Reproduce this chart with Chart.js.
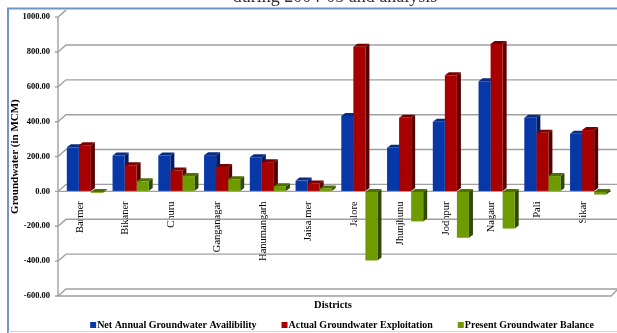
<!DOCTYPE html>
<html>
<head>
<meta charset="utf-8">
<script src="https://cdn.jsdelivr.net/npm/chart.js@4/dist/chart.umd.min.js"></script>
<style>
  html, body { margin: 0; padding: 0; background: #ffffff; }
  #wrap { width: 617px; height: 333px; position: relative; }
</style>
</head>
<body>
<div id="wrap"><canvas id="c" width="617" height="333"></canvas></div>
<script>
// ---- data ----
const districts = ["Barmer", "Bikaner", "Churu", "Ganganagar", "Hanumangarh", "Jaisalmer",
                   "Jalore", "Jhunjhunu", "Jodhpur", "Nagaur", "Pali", "Sikar"];
const netAvailability = [253, 206, 206, 208, 196, 62, 432, 250, 400, 632, 422, 331];
const actualExploitation = [265, 150, 120, 140, 168, 46, 830, 422, 667, 846, 337, 352];
const presentBalance = [-8, 58, 88, 70, 30, 17, -396, -172, -266, -213, 88, -18];
const seriesNames = ["Net Annual Groundwater Availibility", "Actual Groundwater Exploitation",
                     "Present Groundwater Balance"];
const yTicks = [1000, 800, 600, 400, 200, 0, -200, -400, -600];

const SERIF = "'Liberation Serif', 'DejaVu Serif', serif";
const frontColors = ["#0838A8", "#A80000", "#6E9C00"];
const sideColors = ["#001E66", "#580000", "#2F4A00"];
const topColors = ["#0A2C80", "#7A0000", "#4E7000"];
const DX = 4, DY = 3;       // bar depth
const GX = 8, GY = 7;       // wall depth
const WALL_SHIFT = 4;       // front wall edge sits left of the category band

const framePlugin = {
  id: 'frame',
  beforeDraw(chart) {
    const ctx = chart.ctx;
    ctx.save();
    ctx.fillStyle = '#ffffff';
    ctx.fillRect(0, 0, chart.width, chart.height);
    // cropped caption at the very top
    ctx.fillStyle = '#333';
    ctx.font = "18px " + SERIF;
    ctx.textAlign = 'center';
    ctx.textBaseline = 'alphabetic';
    ctx.fillText('during 2004-05 and analysis', 335, 2);
    // outer frame
    ctx.strokeStyle = '#6D95C8';
    ctx.lineWidth = 2;
    ctx.beginPath();
    ctx.moveTo(8, 333);
    ctx.lineTo(8, 8.5);
    ctx.lineTo(617, 8.5);
    ctx.stroke();
    ctx.strokeStyle = '#C9D6E6';
    ctx.lineWidth = 1;
    ctx.beginPath();
    ctx.moveTo(8, 331.5);
    ctx.lineTo(617, 331.5);
    ctx.stroke();
    ctx.restore();
  },
  beforeDatasetsDraw(chart) {
    const ctx = chart.ctx;
    const ys = chart.scales.y;
    const area = chart.chartArea;
    const L = area.left - WALL_SHIFT, R = area.right;
    ctx.save();
    ctx.strokeStyle = '#A0A0A0';
    ctx.lineWidth = 1.4;
    yTicks.forEach((v, i) => {
      const y = ys.getPixelForValue(v);
      ctx.beginPath();
      ctx.moveTo(L - 3, y);
      ctx.lineTo(L, y);
      ctx.lineTo(L + GX, y - GY);
      if (i > 0) ctx.lineTo(R + 10, y - GY);
      ctx.stroke();
    });
    // floor front edge
    const yb = ys.getPixelForValue(yTicks[yTicks.length - 1]);
    ctx.beginPath();
    ctx.moveTo(L, yb);
    ctx.lineTo(R, yb);
    ctx.lineTo(R + 6, yb - GY + 1);
    ctx.stroke();
    // zero front edge
    const y0 = ys.getPixelForValue(0);
    ctx.beginPath();
    ctx.moveTo(L, y0);
    ctx.lineTo(R, y0);
    ctx.stroke();
    // vertical axis wall edge
    ctx.beginPath();
    ctx.moveTo(L, ys.getPixelForValue(yTicks[0]));
    ctx.lineTo(L, yb);
    ctx.stroke();

    // side and top faces of the bars (drawn behind the fronts)
    chart.data.datasets.forEach((ds, di) => {
      const meta = chart.getDatasetMeta(di);
      meta.data.forEach(el => {
        const w = el.width;
        const x1 = el.x + w / 2, x0 = el.x - w / 2;
        const top = Math.min(el.y, el.base), bot = Math.max(el.y, el.base);
        ctx.fillStyle = sideColors[di];
        ctx.beginPath();
        ctx.moveTo(x1, bot);
        ctx.lineTo(x1 + DX, bot - DY);
        ctx.lineTo(x1 + DX, top - DY);
        ctx.lineTo(x1, top);
        ctx.closePath();
        ctx.fill();
        ctx.fillStyle = topColors[di];
        ctx.beginPath();
        ctx.moveTo(x0, top);
        ctx.lineTo(x0 + DX, top - DY);
        ctx.lineTo(x1 + DX, top - DY);
        ctx.lineTo(x1, top);
        ctx.closePath();
        ctx.fill();
      });
    });
    ctx.restore();
  },
  afterDraw(chart) {
    const ctx = chart.ctx;
    ctx.save();
    // x axis title
    ctx.fillStyle = '#000';
    ctx.font = "bold 10.5px " + SERIF;
    ctx.textAlign = 'center';
    ctx.textBaseline = 'middle';
    ctx.fillText('Districts', 333, 305);
    // legend
    ctx.font = "bold 10px " + SERIF;
    ctx.textAlign = 'left';
    const box = 6, gapBox = 1, gapItem = 25;
    const widths = seriesNames.map(n => ctx.measureText(n).width);
    const total = widths.reduce((a, b) => a + b, 0) + seriesNames.length * (box + gapBox) + gapItem * (seriesNames.length - 1);
    let x = 342 - total / 2;
    const ly = 325;
    seriesNames.forEach((n, i) => {
      ctx.fillStyle = frontColors[i];
      ctx.fillRect(x, ly - box / 2, box, box);
      x += box + gapBox;
      ctx.fillStyle = '#000';
      ctx.fillText(n, x, ly + 0.5);
      x += widths[i] + gapItem;
    });
    ctx.restore();
  }
};

new Chart(document.getElementById('c'), {
  type: 'bar',
  data: {
    labels: districts,
    datasets: [
      { label: seriesNames[0], data: netAvailability, backgroundColor: frontColors[0] },
      { label: seriesNames[1], data: actualExploitation, backgroundColor: frontColors[1] },
      { label: seriesNames[2], data: presentBalance, backgroundColor: frontColors[2] }
    ]
  },
  options: {
    responsive: false,
    animation: false,
    devicePixelRatio: 1,
    layout: { padding: { left: 8, right: 6, top: 17, bottom: 37 } },
    datasets: { bar: { categoryPercentage: 0.79, barPercentage: 1.0 } },
    plugins: {
      legend: { display: false },
      tooltip: { enabled: false }
    },
    scales: {
      x: {
        type: 'category',
        position: { y: 0 },
        grid: { display: false },
        border: { display: false },
        ticks: {
          color: '#000',
          font: { family: SERIF, size: 10.5 },
          maxRotation: 90,
          minRotation: 90,
          padding: 2,
          labelOffset: -5,
          autoSkip: false
        }
      },
      y: {
        min: -600,
        max: 1000,
        afterFit(scale) { scale.width = 54; },
        afterBuildTicks(scale) { scale.ticks = yTicks.map(v => ({ value: v })); },
        grid: { display: true, drawOnChartArea: false, drawTicks: false, color: 'rgba(0,0,0,0)' },
        border: { display: false },
        ticks: {
          color: '#000',
          font: { family: SERIF, size: 8.5, weight: 'bold' },
          padding: 12,
          callback: v => Number(v).toFixed(2)
        },
        title: {
          display: true,
          text: 'Groundwater (in MCM)',
          color: '#000',
          font: { family: SERIF, size: 11, weight: 'bold' },
          padding: { top: 1, bottom: 0 }
        }
      }
    }
  },
  plugins: [framePlugin]
});
</script>
</body>
</html>
